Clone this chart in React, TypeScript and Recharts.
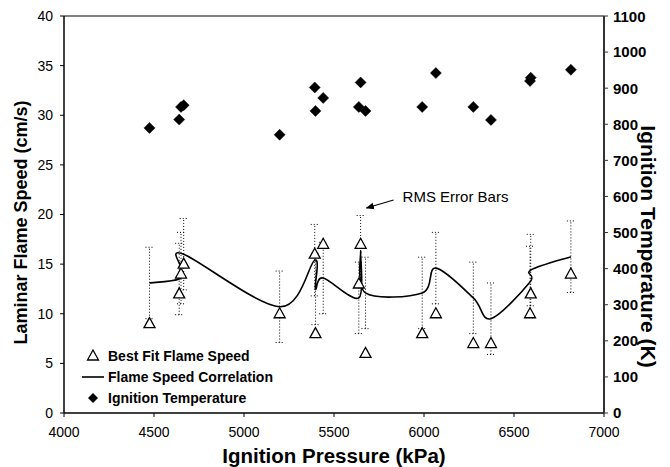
import React from "react";
import {
  ComposedChart,
  Line,
  Scatter,
  XAxis,
  YAxis,
  ErrorBar,
  ReferenceLine,
  ReferenceDot,
} from "recharts";

// Ignition pressure (kPa) of each test
const pressure = [4475, 4640, 4650, 4665, 5198, 5393, 5397, 5440, 5638, 5648, 5675, 5990, 6066, 6274, 6372, 6589, 6593, 6816];
// Best fit laminar flame speed (cm/s)
const bestFitSpeed = [9, 12, 14, 15, 10, 16, 8, 17, 13, 17, 6, 8, 10, 7, 7, 10, 12, 14];
// Flame speed correlation (cm/s)
const correlationSpeed = [13.1, 13.5, 14.6, 16.0, 10.7, 15.4, 12.5, 13.6, 11.6, 16.3, 12.1, 12.1, 14.6, 11.6, 9.5, 13.2, 14.4, 15.75];
// Ignition temperature (K)
const ignitionTemp = [790, 813, 848, 853, 771, 902, 837, 873, 848, 916, 837, 848, 942, 848, 812, 920, 929, 951];
// RMS error of the correlation (cm/s)
const rmsError = [3.6, 3.6, 3.6, 3.6, 3.6, 3.6, 3.6, 3.6, 3.6, 3.6, 3.6, 3.6, 3.6, 3.6, 3.6, 3.6, 3.6, 3.6];

const xTicks = [4000, 4500, 5000, 5500, 6000, 6500, 7000];
const leftTicks = [0, 5, 10, 15, 20, 25, 30, 35, 40];
const rightTicks = [0, 100, 200, 300, 400, 500, 600, 700, 800, 900, 1000, 1100];

const legendItems = ["Best Fit Flame Speed", "Flame Speed Correlation", "Ignition Temperature"];
const annotationText = "RMS Error Bars";
const arrowTail = { x: 5831, y: 21.46 };
const arrowHead = { x: 5680, y: 20.65 };
const annotationAt = { x: 5881, y: 21.8 };

const data = pressure.map((p, i) => ({
  p,
  speed: bestFitSpeed[i],
  corr: correlationSpeed[i],
  temp: ignitionTemp[i],
  err: rmsError[i],
}));

const FONT = "'Liberation Sans', Arial, sans-serif";

// Spreadsheet-style smoothed line (Catmull-Rom through the points)
const smoothCurve: any = (context: any) => {
  let pts: number[][] = [];
  return {
    areaStart() {},
    areaEnd() {},
    lineStart() {
      pts = [];
    },
    point(x: number, y: number) {
      pts.push([+x, +y]);
    },
    lineEnd() {
      const n = pts.length;
      if (!n) return;
      context.moveTo(pts[0][0], pts[0][1]);
      for (let i = 0; i < n - 1; i++) {
        const p0 = pts[i - 1] || pts[i];
        const p1 = pts[i];
        const p2 = pts[i + 1];
        const p3 = pts[i + 2] || p2;
        context.bezierCurveTo(
          p1[0] + (p2[0] - p0[0]) / 6,
          p1[1] + (p2[1] - p0[1]) / 6,
          p2[0] - (p3[0] - p1[0]) / 6,
          p2[1] - (p3[1] - p1[1]) / 6,
          p2[0],
          p2[1]
        );
      }
    },
  };
};

const Triangle = (props: any) => {
  const { cx, cy } = props;
  if (cx == null || cy == null) return null;
  const h = 10;
  const w = 11;
  return (
    <polygon
      points={`${cx},${cy - h * 0.6} ${cx - w / 2},${cy + h * 0.4} ${cx + w / 2},${cy + h * 0.4}`}
      fill="#fff"
      stroke="#000"
      strokeWidth={1.3}
    />
  );
};

const Diamond = (props: any) => {
  const { cx, cy } = props;
  if (cx == null || cy == null) return null;
  const r = 5.5;
  return (
    <polygon
      points={`${cx},${cy - r} ${cx + r},${cy} ${cx},${cy + r} ${cx - r},${cy}`}
      fill="#000"
      stroke="#000"
      strokeWidth={0.5}
    />
  );
};

export default function App() {
  return (
    <div style={{ position: "relative", width: 662, height: 459, fontFamily: FONT }}>
      <svg width={0} height={0} style={{ position: "absolute" }}>
        <defs>
          <marker id="arrowHead" viewBox="0 0 10 10" refX="9" refY="5" markerWidth="7" markerHeight="7" orient="auto">
            <path d="M0,1 L10,5 L0,9 Z" fill="#000" />
          </marker>
        </defs>
      </svg>
      <ComposedChart
        width={662}
        height={459}
        data={data}
        margin={{ top: 8, right: 0, bottom: 0, left: 0 }}
      >
        <XAxis
          dataKey="p"
          type="number"
          domain={[4000, 7000]}
          ticks={xTicks}
          height={54}
          axisLine={{ stroke: "#000", strokeWidth: 1.5 }}
          tickLine={{ stroke: "#000" }}
          tickSize={4}
          tickMargin={10}
          tick={{ fill: "#000", fontSize: 14, fontFamily: FONT }}
          label={{ value: "Ignition Pressure (kPa)", position: "center", dy: 16, style: { fontSize: 20.5, fontWeight: "bold", fill: "#000", fontFamily: FONT } }}
        />
        <YAxis
          yAxisId="left"
          type="number"
          domain={[0, 40]}
          ticks={leftTicks}
          width={56}
          axisLine={{ stroke: "#000", strokeWidth: 1.5 }}
          tickLine={{ stroke: "#000" }}
          tickSize={4}
          tickMargin={7}
          tick={{ fill: "#000", fontSize: 14, fontFamily: FONT }}
          label={{ value: "Laminar Flame Speed (cm/s)", angle: -90, position: "center", dx: -15, dy: 8, style: { fontSize: 18, fontWeight: "bold", fill: "#000", fontFamily: FONT } }}
        />
        <YAxis
          yAxisId="right"
          orientation="right"
          type="number"
          domain={[0, 1100]}
          ticks={rightTicks}
          width={66}
          axisLine={{ stroke: "#333", strokeWidth: 2 }}
          tickLine={{ stroke: "#333" }}
          tickSize={4}
          tickMargin={5}
          tick={{ fill: "#000", fontSize: 15, fontWeight: "bold", fontFamily: FONT }}
          label={{ value: "Ignition Temperature (K)", angle: 90, position: "center", dx: 11, dy: 32, style: { fontSize: 21, fontWeight: "bold", fill: "#000", fontFamily: FONT } }}
        />
        <ReferenceLine yAxisId="left" y={40} stroke="#808080" strokeWidth={2} />
        <Line
          yAxisId="left"
          dataKey="corr"
          type={smoothCurve}
          stroke="#000"
          strokeWidth={1.6}
          dot={false}
          activeDot={false}
          isAnimationActive={false}
        >
          <ErrorBar dataKey="err" direction="y" width={4} stroke="#000" strokeWidth={1} strokeDasharray="1 2" />
        </Line>
        <Scatter yAxisId="left" dataKey="speed" shape={<Triangle />} isAnimationActive={false} />
        <Scatter yAxisId="right" dataKey="temp" shape={<Diamond />} isAnimationActive={false} />
        <ReferenceLine
          yAxisId="left"
          segment={[arrowTail, arrowHead]}
          stroke="#000"
          strokeWidth={1.2}
          markerEnd="url(#arrowHead)"
          ifOverflow="visible"
        />
        <ReferenceDot
          yAxisId="left"
          x={annotationAt.x}
          y={annotationAt.y}
          r={0}
          fill="none"
          stroke="none"
          label={{ value: annotationText, position: "right", offset: 0, style: { fontSize: 15, fill: "#000", fontFamily: FONT } }}
        />
      </ComposedChart>
      <svg width={200} height={70} style={{ position: "absolute", left: 70, top: 338 }}>
        <polygon points="15,4 9.5,14 20.5,14" fill="#fff" stroke="#000" strokeWidth={1.3} />
        <text x={30} y={15} fontSize={14} fontWeight="bold" fontFamily={FONT}>{legendItems[0]}</text>
        <line x1={4} y1={31} x2={26} y2={31} stroke="#000" strokeWidth={1.6} />
        <text x={30} y={36} fontSize={14} fontWeight="bold" fontFamily={FONT}>{legendItems[1]}</text>
        <polygon points="15,47 20,52 15,57 10,52" fill="#000" />
        <text x={30} y={57} fontSize={14} fontWeight="bold" fontFamily={FONT}>{legendItems[2]}</text>
      </svg>
    </div>
  );
}
